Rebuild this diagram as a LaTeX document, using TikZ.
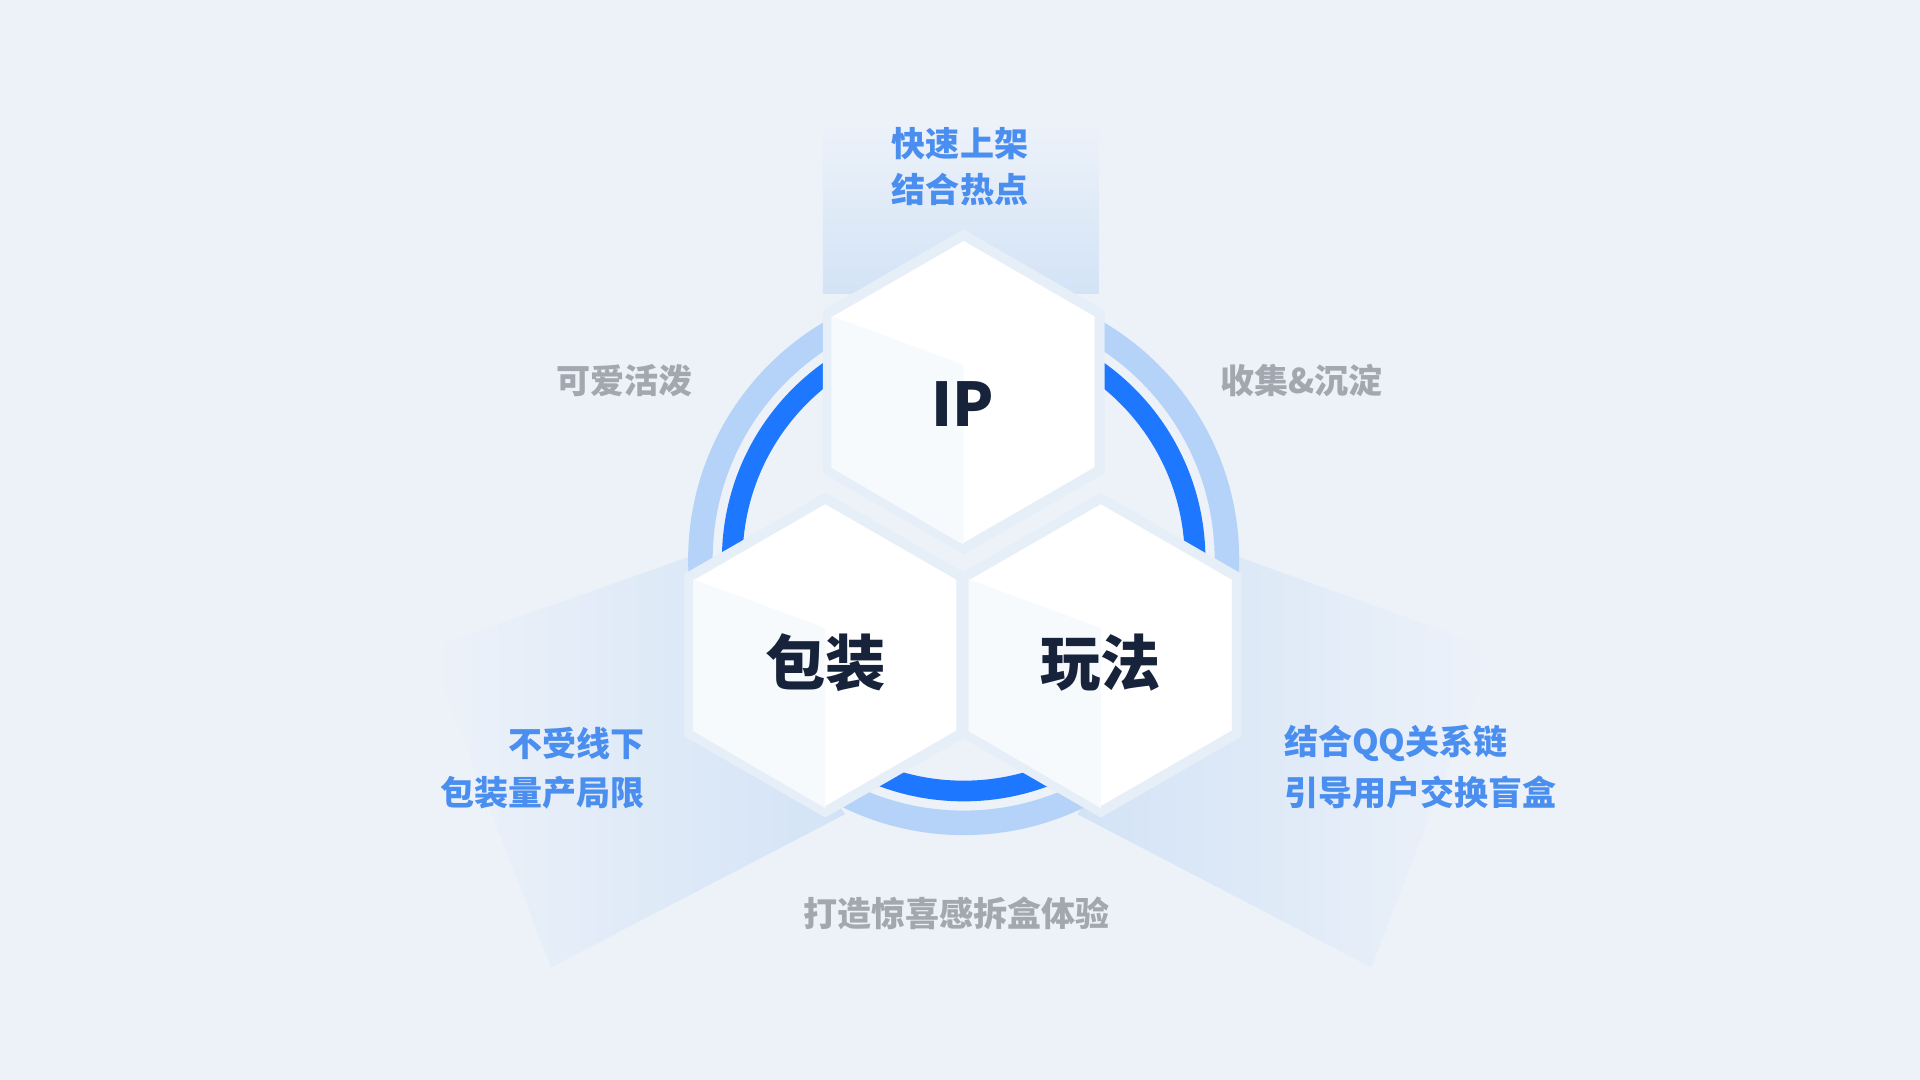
\documentclass[tikz,border=0pt]{standalone}
\usepackage{fontspec}
\setmainfont{Noto Sans CJK SC}
\definecolor{bg}{HTML}{EDF2F9}
\definecolor{beam}{HTML}{D3E3F6}
\definecolor{ringl}{HTML}{B5D2F8}
\definecolor{ringb}{HTML}{1E78FF}
\definecolor{hexedge}{HTML}{E6EEF8}
\definecolor{hexshade}{HTML}{F7FAFD}
\definecolor{tblue}{HTML}{4A8EF0}
\definecolor{tgrey}{HTML}{A3A8B0}
\definecolor{tdark}{HTML}{17233A}
\tikzset{
 hexfill/.style={fill=white,draw=hexedge,line width=2.3pt,line join=miter},
 lbl/.style={font=\fontsize{7.9}{9}\selectfont\bfseries,inner sep=0pt},
 big/.style={font=\fontsize{14}{16}\selectfont\bfseries,text=tdark,inner sep=0pt}
}
\newcommand\myhex[2]{%
 \path[hexfill] (#1,#2-128) -- (#1+111,#2-64) -- (#1+111,#2+64) -- (#1,#2+128) -- (#1-111,#2+64) -- (#1-111,#2-64) -- cycle;
 \fill[hexshade] (#1-108,#2-62) -- (#1,#2-22) -- (#1,#2+125) -- (#1-108,#2+62) -- cycle;}
\begin{document}
\begin{tikzpicture}[x=0.01cm,y=-0.01cm]
\fill[bg] (0,0) rectangle (1568,882);
% beams
\shade[top color=bg,bottom color=beam] (672,100) rectangle (897,240);
\shade[shading angle=-20,left color=bg,right color=beam] (562,455) -- (350,530) -- (450,790) -- (690,665) -- cycle;
\shade[shading angle=20,left color=beam,right color=bg] (1012,455) -- (1220,530) -- (1120,790) -- (880,665) -- cycle;
% rings
\draw[ringl,line width=5.7pt] (787,457) circle (215);
\draw[ringb,line width=4.8pt] (787,457) circle (189);
% hexagons
\myhex{787}{320}
\myhex{674}{535}
\myhex{899}{535}
\node[big] (ip) at (786,330) {IP};
\node[big] (bz) at (674,541) {包装};
\node[big] (wf) at (899,541) {玩法};
\node[lbl,text=tblue] (t1) at (784,117) {快速上架};
\node[lbl,text=tblue] (t2) at (784,155) {结合热点};
\node[lbl,text=tgrey] (g1) at (510,311) {可爱活泼};
\node[lbl,text=tgrey] (g2) at (1063,311) {收集\&沉淀};
\node[lbl,text=tgrey] (g3) at (781,746) {打造惊喜感拆盒体验};
\node[lbl,text=tblue,anchor=east] (l1) at (527,607) {不受线下};
\node[lbl,text=tblue,anchor=east] (l2) at (527,647) {包装量产局限};
\node[lbl,text=tblue,anchor=west] (r1) at (1048,607) {结合QQ关系链};
\node[lbl,text=tblue,anchor=west] (r2) at (1048,647) {引导用户交换盲盒};
\end{tikzpicture}
\end{document}
